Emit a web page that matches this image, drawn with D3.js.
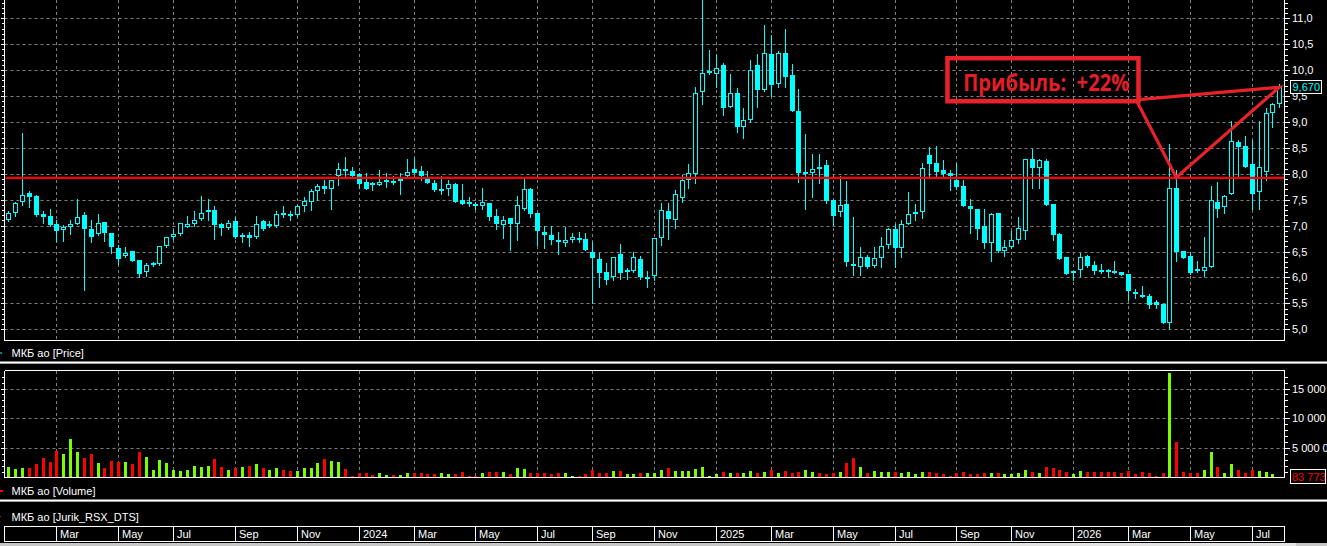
<!DOCTYPE html>
<html><head><meta charset="utf-8">
<script src="https://cdn.jsdelivr.net/npm/d3@7"></script>
<style>html,body{margin:0;padding:0;background:#000;overflow:hidden}svg{display:block}</style>
</head><body><svg id="c" width="1327" height="546"></svg>
<script>
// ---- DATA (weekly candles, МКБ ао) ----
const opens  = [7.10,7.24,7.45,7.62,7.57,7.23,7.19,7.04,6.92,6.98,7.04,7.21,6.93,6.84,7.07,6.86,6.56,6.42,6.51,6.34,6.11,6.25,6.26,6.61,6.79,6.83,6.98,7.03,7.12,7.26,7.31,7.04,6.96,7.09,6.80,6.82,6.79,7.08,7.01,7.00,7.24,7.22,7.20,7.38,7.46,7.66,7.77,7.71,7.95,8.09,8.05,8.00,7.84,7.82,7.78,7.84,7.86,7.86,7.95,8.10,8.05,7.91,7.83,7.69,7.70,7.81,7.50,7.46,7.42,7.37,7.43,7.19,7.01,7.14,7.03,7.32,7.71,7.24,6.87,6.82,6.72,6.66,6.72,6.77,6.74,6.50,6.35,6.11,6.00,6.45,6.10,6.13,6.36,5.99,6.02,6.77,7.29,7.11,7.54,7.88,8.00,9.57,9.96,9.92,10.09,9.28,9.55,8.91,9.03,10.10,9.62,10.31,9.73,10.34,9.91,9.21,8.00,8.02,8.13,8.17,7.50,7.26,7.42,6.26,6.20,6.40,6.23,6.37,6.63,6.93,6.56,7.04,7.24,7.27,8.36,8.20,8.07,8.01,7.89,7.77,7.38,7.32,6.99,6.67,7.24,6.52,6.59,6.72,6.90,8.28,8.11,8.25,7.42,6.84,6.39,6.08,6.14,6.41,6.25,6.14,6.14,6.12,6.10,6.07,5.71,5.66,5.64,5.53,5.49,5.13,7.72,6.52,6.41,6.16,6.13,6.21,7.46,7.35,7.61,8.62,8.54,8.18,7.64,8.04,9.17,9.35];
const highs  = [7.29,7.45,8.78,7.67,7.60,7.28,7.33,7.10,7.01,7.10,7.51,7.26,7.10,7.23,7.07,6.86,6.63,6.59,6.51,6.34,6.27,6.30,6.61,6.79,6.92,7.06,7.19,7.29,7.57,7.51,7.37,7.06,7.10,7.17,6.85,6.88,7.19,7.10,7.09,7.28,7.37,7.29,7.40,7.56,7.70,7.80,7.89,7.89,8.20,8.32,8.14,8.01,8.01,7.84,8.07,8.01,7.96,8.01,8.28,8.31,8.15,8.05,7.88,7.96,7.89,7.83,7.80,7.56,7.46,7.72,7.43,7.33,7.19,7.14,7.57,7.90,7.72,7.24,6.99,6.99,6.87,6.97,6.85,6.87,6.85,6.69,6.47,6.27,6.40,6.64,6.18,6.50,6.41,6.13,6.76,7.43,7.43,7.69,7.98,8.19,9.67,11.45,10.38,10.29,10.14,9.93,9.65,9.26,10.20,10.31,10.87,10.68,10.36,10.79,10.12,9.64,8.77,8.38,8.38,8.27,7.50,7.96,7.86,7.16,6.58,6.43,6.59,6.79,6.95,7.04,7.10,7.64,7.42,8.20,8.52,8.54,8.27,8.07,8.20,7.89,7.52,7.33,7.33,7.24,7.25,6.72,6.90,7.17,8.28,8.47,8.28,8.28,7.42,6.85,6.39,6.13,6.47,6.43,6.31,6.26,6.16,6.32,6.11,6.07,5.77,5.84,5.69,5.57,5.49,8.58,8.07,6.52,6.50,6.31,6.78,7.77,7.85,7.59,9.01,8.65,8.72,8.65,9.02,9.26,9.36,9.73];
const lows   = [7.08,7.19,7.40,7.35,7.19,7.06,7.00,6.71,6.71,6.84,7.03,5.76,6.69,6.82,6.71,6.48,6.26,6.39,6.31,6.00,6.03,6.23,6.24,6.58,6.74,6.82,6.98,7.00,7.11,7.10,6.74,6.82,6.94,6.77,6.69,6.60,6.77,6.92,6.98,6.98,7.16,7.11,7.18,7.29,7.30,7.50,7.62,7.32,7.78,7.95,7.95,7.72,7.71,7.68,7.78,7.74,7.80,7.61,7.94,8.01,7.88,7.82,7.66,7.61,7.59,7.46,7.42,7.38,7.33,7.32,7.10,6.94,6.77,6.53,6.72,7.30,7.17,6.63,6.56,6.64,6.45,6.61,6.69,6.69,6.53,5.50,5.82,5.87,5.96,5.98,5.98,6.11,5.98,5.82,5.96,6.63,6.74,6.96,7.46,7.73,7.83,9.35,9.93,9.67,9.14,9.28,8.81,8.70,8.99,9.28,9.60,9.50,9.67,9.67,9.21,7.85,7.33,7.56,7.83,7.43,7.01,7.19,6.22,6.05,6.05,6.18,6.21,6.21,6.56,6.21,6.40,7.03,7.10,7.14,7.95,7.95,7.95,7.68,7.70,7.37,6.86,6.74,6.56,6.32,6.50,6.41,6.56,6.66,6.74,7.72,7.72,7.40,6.72,6.35,6.07,5.96,6.03,6.21,6.07,6.09,6.00,6.09,6.04,5.57,5.60,5.63,5.42,5.41,5.13,5.03,6.32,6.37,6.07,6.10,6.03,6.20,7.16,7.24,7.61,7.95,8.14,7.33,7.33,7.88,8.91,9.28];
const closes = [7.25,7.43,7.59,7.56,7.21,7.17,7.01,6.90,6.98,7.04,7.16,6.94,6.79,7.06,6.86,6.58,6.36,6.47,6.31,6.07,6.24,6.28,6.61,6.79,6.83,7.06,7.03,7.11,7.24,7.30,7.01,6.96,7.06,6.79,6.82,6.77,7.04,6.93,7.03,7.23,7.21,7.21,7.37,7.47,7.66,7.77,7.71,7.89,8.09,8.06,7.96,7.80,7.71,7.81,7.84,7.88,7.85,7.90,8.04,8.02,7.95,7.82,7.68,7.71,7.80,7.46,7.42,7.41,7.37,7.45,7.17,7.03,7.11,7.03,7.40,7.70,7.23,6.90,6.81,6.72,6.71,6.72,6.79,6.74,6.53,6.38,6.09,5.96,6.40,6.09,6.14,6.39,6.00,6.00,6.76,7.30,7.13,7.61,7.88,8.01,9.55,9.94,9.99,10.04,9.26,9.55,8.91,9.04,10.00,9.62,10.34,9.71,10.34,9.87,9.21,8.02,8.03,8.09,8.11,7.48,7.19,7.39,6.29,6.24,6.39,6.21,6.37,6.61,6.93,6.56,7.03,7.22,7.26,8.11,8.19,8.04,8.00,7.95,7.75,7.37,7.32,6.94,6.67,7.22,6.52,6.59,6.72,6.95,8.28,8.11,8.27,7.40,6.81,6.36,6.07,6.13,6.40,6.23,6.13,6.13,6.10,6.10,6.05,5.73,5.69,5.63,5.46,5.47,5.13,7.72,6.50,6.38,6.08,6.13,6.21,7.50,7.33,7.58,8.64,8.52,8.14,7.61,8.14,9.18,9.35,9.67];
const volumes = [1808000,1356000,1526000,1639000,2204000,3221000,2656000,4520000,3899000,6554000,4238000,3334000,3899000,2486000,1639000,2769000,2656000,2656000,2204000,4238000,3503000,1243000,2938000,2373000,1243000,1130000,1243000,1978000,1808000,1921000,3164000,1695000,1243000,1582000,1808000,1978000,2317000,1582000,1243000,1582000,1243000,1074000,1074000,1582000,1582000,2373000,3164000,2825000,2656000,1413000,226000,678000,678000,452000,678000,452000,452000,452000,678000,791000,791000,622000,
 509000,678000,509000,509000,848000,283000,283000,791000,848000,848000,848000,509000,1526000,1356000,678000,678000,678000,509000,678000,678000,283000,283000,509000,1243000,791000,678000,1130000,1074000,509000,509000,791000,678000,791000,1243000,1526000,1130000,1017000,1017000,1356000,1808000,283000,509000,848000,678000,678000,678000,1074000,678000,961000,1243000,678000,1130000,678000,961000,1243000,848000,678000,565000,678000,848000,2486000,3334000,
 1808000,678000,1130000,961000,848000,961000,678000,961000,565000,961000,848000,678000,509000,283000,678000,848000,509000,509000,678000,678000,678000,509000,509000,678000,1243000,848000,678000,1808000,1526000,1243000,848000,509000,1130000,848000,848000,961000,848000,848000,678000,1130000,509000,848000,678000,283000,678000,17628000,5933000,848000,678000,678000,1243000,4238000,1808000,678000,2204000,1243000,791000,1243000,1074000,961000,509000,83773];
const monthIdx    = [7,16,24,33,42,51,59,68,77,85,94,103,111,120,129,138,146,155,163,172,181];
const monthLabels = ["Mar","May","Jul","Sep","Nov","2024","Mar","May","Jul","Sep","Nov","2025","Mar","May","Jul","Sep","Nov","2026","Mar","May","Jul"];
const priceTicks  = [5.0,5.5,6.0,6.5,7.0,7.5,8.0,8.5,9.0,9.5,10.0,10.5,11.0];
const volumeTicks = [5000000,10000000,15000000];
const levelPrice  = 7.92;
const panelLabels = ["МКБ ао [Price]","МКБ ао [Volume]","МКБ ао [Jurik_RSX_DTS]"];
const profitText  = "Прибыль:  +22%";
const profitBoxIdx   = [136.7,164.5];
const profitBoxPrice = [10.23,9.40];
const profitTextAt   = [139.0,9.60];
const profitLineIdx   = [164.3,170,185,164.5];
const profitLinePrice = [9.39,7.93,9.67,9.43];

// ---- LAYOUT ----
const svg = d3.select("#c");
const W = 1327, axL = 4.5, axR = 1284.5;
const n = closes.length;
const x  = d3.scaleLinear().domain([0, n-1]).range([8.3, 1279.3]);
const yP = d3.scaleLinear().domain([5, 11]).range([329.3, 18.3]);
const yV = d3.scaleLinear().domain([0, 15000000]).range([477.5, 388.5]);
const cx = i => Math.round(x(i));
const CY = "#00ffff", GRID = "#808080", RED = "#ff0000", GREEN = "#7cfc00", ANN = "#e8222a";
const font = "'Liberation Sans', Arial, sans-serif";

svg.append("rect").attr("width", W).attr("height", 546).attr("fill", "#000");

const defs = svg.append("defs");
defs.append("clipPath").attr("id","cp").append("rect").attr("x",axL).attr("y",0).attr("width",axR-axL).attr("height",340);
defs.append("clipPath").attr("id","cv").append("rect").attr("x",axL).attr("y",370.5).attr("width",axR-axL).attr("height",107);

// ---- GRID ----
const g = svg.append("g").attr("stroke", GRID).attr("stroke-dasharray","3,3").attr("stroke-width",1);
priceTicks.forEach(p => g.append("line").attr("x1",axL).attr("x2",axR).attr("y1",Math.round(yP(p))+0.5).attr("y2",Math.round(yP(p))+0.5));
volumeTicks.forEach(v => g.append("line").attr("x1",axL).attr("x2",axR).attr("y1",Math.round(yV(v))+0.5).attr("y2",Math.round(yV(v))+0.5));
monthIdx.forEach(i => {
  g.append("line").attr("x1",cx(i)+0.5).attr("x2",cx(i)+0.5).attr("y1",0).attr("y2",340);
  g.append("line").attr("x1",cx(i)+0.5).attr("x2",cx(i)+0.5).attr("y1",371).attr("y2",477);
});

// ---- CANDLES ----
const cg = svg.append("g").attr("clip-path","url(#cp)").attr("shape-rendering","crispEdges");
d3.range(n).forEach(i => {
  const c = cx(i);
  cg.append("line").attr("x1",c+0.5).attr("x2",c+0.5)
    .attr("y1",Math.round(yP(highs[i]))).attr("y2",Math.round(yP(lows[i]))+1)
    .attr("stroke",CY).attr("stroke-width",1);
  const yo = Math.round(yP(opens[i])), yc = Math.round(yP(closes[i]));
  const top = Math.min(yo,yc), h = Math.max(1, Math.abs(yo-yc));
  if (closes[i] > opens[i]) {
    cg.append("rect").attr("x",c-1.5).attr("y",top+0.5).attr("width",4).attr("height",Math.max(1,h-1))
      .attr("fill","#000").attr("stroke",CY).attr("stroke-width",1);
  } else {
    cg.append("rect").attr("x",c-2).attr("y",top).attr("width",5).attr("height",Math.max(2,h))
      .attr("fill",CY);
  }
});

// level line
svg.append("line").attr("x1",axL+1).attr("x2",axR).attr("y1",yP(levelPrice)).attr("y2",yP(levelPrice))
  .attr("stroke",RED).attr("stroke-width",2.3);

// ---- VOLUME ----
const vg = svg.append("g").attr("clip-path","url(#cv)").attr("shape-rendering","crispEdges");
volumes.forEach((v,i) => {
  const c = cx(i), yt = Math.round(yV(v));
  vg.append("rect").attr("x",c-1).attr("y",yt).attr("width",3).attr("height",Math.max(1,477.5-yt))
    .attr("fill", closes[i] >= opens[i] ? GREEN : RED);
});

// ---- AXES / FRAMES ----
const ag = svg.append("g").attr("stroke","#fff").attr("stroke-width",1).attr("shape-rendering","crispEdges");
ag.append("line").attr("x1",axR).attr("x2",axR).attr("y1",0).attr("y2",340.5);
ag.append("line").attr("x1",axL).attr("x2",axL).attr("y1",0).attr("y2",340.5);
ag.append("line").attr("x1",axL).attr("x2",axR).attr("y1",340.5).attr("y2",340.5);
d3.range(50, 114).forEach(k => {
  const p = k/10, yy = Math.round(yP(p))+0.5; if (yy < 0 || yy > 340) return;
  const major = k % 5 === 0;
  ag.append("line").attr("x1",axR).attr("x2",axR+(major?5:3)).attr("y1",yy).attr("y2",yy);
  ag.append("line").attr("x1",axL-(major?4:3)).attr("x2",axL).attr("y1",yy).attr("y2",yy);
});
ag.append("line").attr("x1",axL).attr("x2",axR).attr("y1",370.5).attr("y2",370.5);
ag.append("line").attr("x1",axL).attr("x2",axR).attr("y1",477.5).attr("y2",477.5);
ag.append("line").attr("x1",axR).attr("x2",axR).attr("y1",370.5).attr("y2",477.5);
ag.append("line").attr("x1",axL).attr("x2",axL).attr("y1",370.5).attr("y2",477.5);
d3.range(1, 18).forEach(k => {
  const yy = Math.round(yV(k*1000000))+0.5; const major = k % 5 === 0;
  ag.append("line").attr("x1",axR).attr("x2",axR+(major?5:3)).attr("y1",yy).attr("y2",yy);
  ag.append("line").attr("x1",axL-(major?4:3)).attr("x2",axL).attr("y1",yy).attr("y2",yy);
});
[[361.5,363.5],[499.5,501.5]].forEach(([a,b]) => {
  svg.append("rect").attr("x",0).attr("y",a).attr("width",W).attr("height",1.5).attr("fill","#ffffff");
  svg.append("rect").attr("x",0).attr("y",a+1.5).attr("width",W).attr("height",1).attr("fill","#a0a0a0");
});
ag.append("rect").attr("x",axL).attr("y",526.5).attr("width",axR-axL).attr("height",15).attr("fill","none");
monthIdx.forEach(i => ag.append("line").attr("x1",cx(i)+0.5).attr("x2",cx(i)+0.5).attr("y1",526.5).attr("y2",541.5));
svg.append("rect").attr("x",0).attr("y",543).attr("width",W).attr("height",3).attr("fill","#c8c8c8");
svg.append("rect").attr("x",880).attr("y",543).attr("width",416).attr("height",3).attr("fill","#e4e4e4");

// labels
const tg = svg.append("g").attr("font-family",font).attr("font-size",11).attr("fill","#fff");
priceTicks.forEach(p => tg.append("text").attr("x",axR+7.5).attr("y",yP(p)+4).text(d3.format(".1f")(p).replace(".",",")));
volumeTicks.forEach(v => tg.append("text").attr("x",axR+7.5).attr("y",yV(v)+4).text(d3.format(",")(v).replace(/,/g," ")));
monthIdx.forEach((i,k) => tg.append("text").attr("x",cx(i)+4).attr("y",537.5).text(monthLabels[k]));
tg.append("text").attr("x",11.5).attr("y",357).text(panelLabels[0]);
tg.append("text").attr("x",11.5).attr("y",495).text(panelLabels[1]);
tg.append("text").attr("x",11.5).attr("y",520.5).text(panelLabels[2]);
svg.append("rect").attr("x",0).attr("y",352.5).attr("width",2).attr("height",1).attr("fill",CY);
svg.append("rect").attr("x",0).attr("y",490).attr("width",3).attr("height",2).attr("fill",RED);
svg.append("rect").attr("x",0).attr("y",516).attr("width",1).attr("height",1).attr("fill",RED);

// last price / last volume boxes
const lp = closes[n-1], yl = Math.round(yP(lp));
svg.append("rect").attr("x",1290.5).attr("y",yl-6.5).attr("width",31).attr("height",13).attr("fill","#000").attr("stroke","#fff").attr("shape-rendering","crispEdges");
svg.append("text").attr("x",1292.5).attr("y",yl+4).attr("font-family",font).attr("font-size",11).attr("fill",CY).text(d3.format(".3f")(lp).replace(".",","));
const lv = volumes[n-1], yvl = Math.round(yV(lv));
svg.append("rect").attr("x",1290.5).attr("y",yvl-7.5).attr("width",35).attr("height",14).attr("fill","#000").attr("stroke","#fff").attr("shape-rendering","crispEdges");
svg.append("text").attr("x",1292).attr("y",yvl+4).attr("font-family",font).attr("font-size",11).attr("fill",RED).text(d3.format(",")(lv).replace(/,/g," "));

// ---- ANNOTATION ----
const an = svg.append("g");
an.append("path")
  .attr("d", d3.line()(profitLineIdx.map((v,k) => [x(v), yP(profitLinePrice[k])])))
  .attr("fill","none").attr("stroke",ANN).attr("stroke-width",3.2).attr("stroke-linejoin","miter");
an.append("rect")
  .attr("x",x(profitBoxIdx[0])).attr("y",yP(profitBoxPrice[0]))
  .attr("width",x(profitBoxIdx[1])-x(profitBoxIdx[0])).attr("height",yP(profitBoxPrice[1])-yP(profitBoxPrice[0]))
  .attr("fill","none").attr("stroke",ANN).attr("stroke-width",4.5);
an.append("text").attr("x",x(profitTextAt[0])).attr("y",yP(profitTextAt[1]))
  .attr("xml:space","preserve").style("white-space","pre")
  .attr("font-family","'Open Sans', 'Noto Sans', sans-serif").attr("font-weight",700).attr("font-size",23)
  .attr("fill","#e31e26").attr("textLength",166).attr("lengthAdjust","spacingAndGlyphs").text(profitText);
</script></body></html>
